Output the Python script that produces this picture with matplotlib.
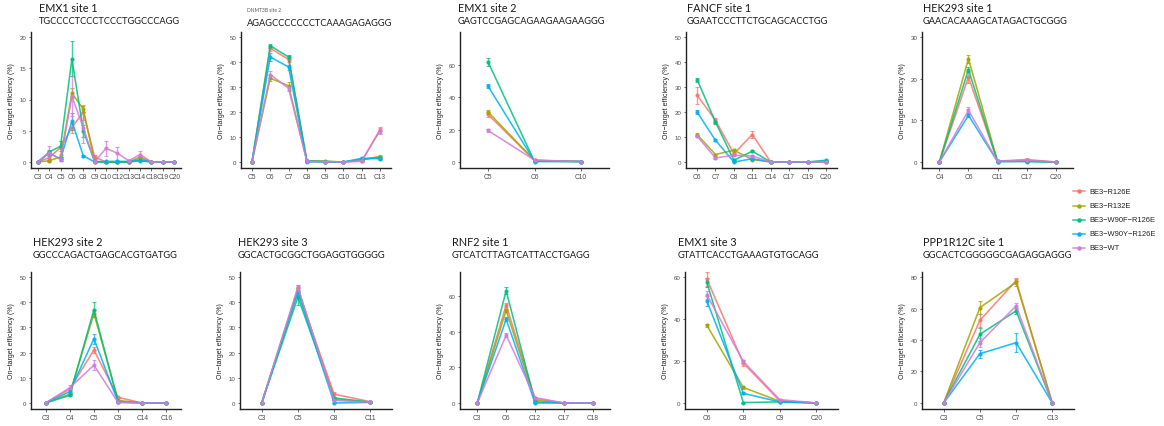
import matplotlib
matplotlib.use("Agg")
import matplotlib.pyplot as plt
from matplotlib.lines import Line2D

W, H = 1164, 427

series_names = ["BE3-R126E", "BE3-R132E", "BE3-W90F-R126E", "BE3-W90Y-R126E", "BE3-WT"]
series_colors = ["#F8766D", "#A3A500", "#00BF7D", "#00B0F6", "#D27BDC"]

# ---------------- data ----------------
p1_name = "EMX1 site 1"
p1_seq = "TGCCCCTCCCTCCCTGGCCCAGG"
p1_cats = ["C3", "C4", "C5", "C6", "C8", "C9", "C10", "C12", "C13", "C14", "C18", "C19", "C20"]
p1_vals = [[0, 0.7, 2.3, 5.5, 8.0, 0.8, 0, 0, 0, 0.5, 0, 0, 0],
           [0, 0.2, 0.8, 11.0, 8.5, 0, 0, 0, 0, 0.8, 0, 0, 0],
           [0, 1.6, 2.5, 16.5, 5.0, 0.1, 0, 0, 0, 0.2, 0, 0, 0],
           [0, 1.4, 0.5, 6.5, 1.0, 0, 0.1, 0.1, 0.1, 0.3, 0, 0, 0],
           [0, 1.5, 0.4, 10.5, 5.5, 0, 2.2, 1.4, 0.2, 1.2, 0, 0, 0]]
p1_errs = [[0, 0.5, 1.0, 0.8, 1.2, 0.3, 0, 0, 0, 0.3, 0, 0, 0],
           [0, 0.2, 0.3, 0.8, 0.5, 0, 0, 0, 0, 0.2, 0, 0, 0],
           [0, 0.3, 0.8, 2.8, 1.0, 0.1, 0.1, 0, 0, 0.1, 0.1, 0, 0],
           [0, 0.4, 0.3, 1.3, 0.2, 0, 0.1, 0.1, 0.1, 0.1, 0, 0, 0],
           [0, 1.0, 0.3, 3.2, 2.5, 0.2, 1.2, 1.0, 0.2, 0.6, 0, 0, 0]]

p2_name = "DNMT3B site 2"
p2_seq = "AGAGCCCCCCCTCAAAGAGAGGG"
p2_cats = ["C5", "C6", "C7", "C8", "C9", "C10", "C11", "C13"]
p2_vals = [[0, 45.5, 41.0, 0.5, 0.2, 0, 0.3, 13.0],
           [0, 33.5, 30.5, 0.5, 0.3, 0, 1.0, 2.2],
           [0, 46.5, 42.0, 0.5, 0.2, 0, 1.0, 1.8],
           [0, 42.0, 38.0, 0, 0, 0, 1.5, 1.3],
           [0, 35.0, 29.5, 0.3, 0.1, 0, 0.5, 12.5]]
p2_errs = [[0, 1.0, 1.0, 0.3, 0.1, 0, 0.2, 1.2],
           [0, 1.2, 1.5, 0.3, 0.1, 0, 0.3, 0.6],
           [0, 0.8, 0.8, 0.2, 0.1, 0, 0.3, 0.5],
           [0, 1.5, 1.0, 0.1, 0, 0, 0.6, 0.4],
           [0, 1.5, 1.0, 0.2, 0.1, 0, 0.2, 1.2]]

p3_name = "EMX1 site 2"
p3_seq = "GAGTCCGAGCAGAAGAAGAAGGG"
p3_cats = ["C5", "C6", "C10"]
p3_vals = [[29.5, 1.0, 0.3],
           [31.0, 1.0, 0.3],
           [62.0, 0.3, 0.3],
           [47.0, 0.5, 0.3],
           [19.5, 1.2, 0.3]]
p3_errs = [[1.5, 0.2, 0.1],
           [1.2, 0.2, 0.1],
           [2.5, 0.1, 0.1],
           [1.2, 0.2, 0.1],
           [1.2, 0.2, 0.1]]

p4_name = "FANCF site 1"
p4_seq = "GGAATCCCTTCTGCAGCACCTGG"
p4_cats = ["C6", "C7", "C8", "C11", "C14", "C17", "C19", "C20"]
p4_vals = [[26.7, 16.7, 3.3, 11.0, 0, 0, 0, 0],
           [11.0, 3.0, 4.7, 1.0, 0, 0, 0, 0.2],
           [33.0, 16.0, 0.7, 4.3, 0, 0, 0, 0.7],
           [20.0, 8.7, 0, 1.3, 0, 0, 0, 0.3],
           [10.4, 1.6, 2.7, 2.4, 0, 0, 0, 0]]
p4_errs = [[3.5, 1.0, 0.5, 1.5, 0, 0, 0, 0],
           [0.5, 0.4, 0.6, 0.3, 0, 0, 0, 0.1],
           [0.8, 0.6, 0.2, 0.4, 0, 0, 0, 0.2],
           [0.8, 0.4, 0.1, 0.3, 0, 0, 0, 0.1],
           [0.5, 0.3, 0.4, 0.4, 0, 0, 0, 0]]

p5_name = "HEK293 site 1"
p5_seq = "GAACACAAAGCATAGACTGCGGG"
p5_cats = ["C4", "C6", "C11", "C17", "C20"]
p5_vals = [[0, 20.4, 0.2, 0.6, 0],
           [0, 24.8, 0.2, 0.2, 0],
           [0, 22.2, 0.1, 0.1, 0],
           [0, 11.2, 0.1, 0.2, 0],
           [0, 12.4, 0.2, 0.4, 0]]
p5_errs = [[0, 1.5, 0.1, 0.3, 0],
           [0, 1.0, 0.1, 0.1, 0],
           [0, 0.7, 0.1, 0.1, 0],
           [0, 0.5, 0.1, 0.1, 0],
           [0, 0.7, 0.1, 0.2, 0]]

p6_name = "HEK293 site 2"
p6_seq = "GGCCCAGACTGAGCACGTGATGG"
p6_cats = ["C3", "C4", "C5", "C9", "C14", "C16"]
p6_vals = [[0, 5.5, 21.0, 2.2, 0, 0],
           [0, 3.5, 35.5, 1.0, 0, 0],
           [0, 3.0, 37.0, 0.5, 0, 0],
           [0, 4.5, 25.5, 0.3, 0, 0],
           [0, 6.0, 15.0, 0.2, 0, 0]]
p6_errs = [[0, 0.6, 1.2, 0.3, 0, 0],
           [0, 0.4, 1.5, 0.2, 0, 0],
           [0, 0.4, 3.0, 0.2, 0, 0],
           [0, 0.5, 2.0, 0.1, 0, 0],
           [0, 1.0, 2.0, 0.1, 0, 0]]

p7_name = "HEK293 site 3"
p7_seq = "GGCACTGCGGCTGGAGGTGGGGG"
p7_cats = ["C3", "C5", "C8", "C11"]
p7_vals = [[0, 44.5, 3.5, 0.5],
           [0, 45.5, 1.5, 0.3],
           [0, 42.0, 2.0, 0.3],
           [0, 44.0, 0, 0.2],
           [0, 46.0, 1.0, 0.3]]
p7_errs = [[0, 1.5, 1.0, 0.1],
           [0, 1.5, 0.4, 0.1],
           [0, 3.0, 0.4, 0.1],
           [0, 1.5, 0.1, 0.1],
           [0, 1.0, 0.3, 0.1]]

p8_name = "RNF2 site 1"
p8_seq = "GTCATCTTAGTCATTACCTGAGG"
p8_cats = ["C3", "C6", "C12", "C17", "C18"]
p8_vals = [[0, 55.0, 2.5, 0, 0],
           [0, 52.0, 1.5, 0, 0],
           [0, 63.0, 0.5, 0, 0],
           [0, 47.0, 0, 0, 0],
           [0, 38.0, 3.0, 0, 0]]
p8_errs = [[0, 1.0, 0.4, 0, 0],
           [0, 1.0, 0.3, 0, 0],
           [0, 2.0, 0.2, 0, 0],
           [0, 1.0, 0.1, 0, 0],
           [0, 1.0, 0.4, 0, 0]]

p9_name = "EMX1 site 3"
p9_seq = "GTATTCACCTGAAAGTGTGCAGG"
p9_cats = ["C6", "C8", "C9", "C20"]
p9_vals = [[59.0, 19.0, 1.0, 0],
           [37.0, 7.4, 0.8, 0],
           [57.4, 0.2, 0.5, 0],
           [48.5, 4.6, 0.5, 0],
           [51.5, 19.8, 1.6, 0]]
p9_errs = [[3.5, 1.5, 0.3, 0],
           [0.8, 0.6, 0.2, 0],
           [2.0, 0.1, 0.2, 0],
           [2.5, 0.4, 0.1, 0],
           [2.0, 0.8, 0.4, 0]]

p10_name = "PPP1R12C site 1"
p10_seq = "GGCACTCGGGGGCGAGAGGAGGG"
p10_cats = ["C3", "C5", "C7", "C13"]
p10_vals = [[0, 52.5, 77.7, 0],
            [0, 60.6, 76.6, 0],
            [0, 43.6, 58.5, 0],
            [0, 31.3, 38.3, 0],
            [0, 38.3, 61.7, 0]]
p10_errs = [[0, 4.0, 2.0, 0],
            [0, 4.0, 2.0, 0],
            [0, 4.0, 2.0, 0],
            [0, 2.5, 6.0, 0],
            [0, 3.0, 2.0, 0]]

# ---------------- layout (pixels) ----------------
panels = [
    (p1_name, p1_seq, p1_cats, p1_vals, p1_errs, 31, 181, 33, 169, [0, 5, 10, 15, 20], None, 39, 9, 22, False),
    (p2_name, p2_seq, p2_cats, p2_vals, p2_errs, 241, 391, 33, 169, [0, 10, 20, 30, 40, 50], None, 247, 11, 23, True),
    (p3_name, p3_seq, p3_cats, p3_vals, p3_errs, 460, 609, 33, 169, [0, 20, 40, 60], (-3.7, 80.4), 458, 9, 22, False),
    (p4_name, p4_seq, p4_cats, p4_vals, p4_errs, 686, 837, 33, 169, [0, 10, 20, 30, 40, 50], None, 687, 9, 22, False),
    (p5_name, p5_seq, p5_cats, p5_vals, p5_errs, 922, 1073, 33, 169, [0, 10, 20, 30], None, 923, 9, 22, False),
    (p6_name, p6_seq, p6_cats, p6_vals, p6_errs, 31, 181, 273, 410, [0, 10, 20, 30, 40, 50], None, 33, 243, 256, False),
    (p7_name, p7_seq, p7_cats, p7_vals, p7_errs, 240, 392, 273, 410, [0, 10, 20, 30, 40, 50], None, 238, 243, 256, False),
    (p8_name, p8_seq, p8_cats, p8_vals, p8_errs, 460, 610, 273, 410, [0, 20, 40, 60], (-3.4, 73.5), 452, 243, 256, False),
    (p9_name, p9_seq, p9_cats, p9_vals, p9_errs, 685, 838, 273, 410, [0, 20, 40, 60], None, 678, 243, 256, False),
    (p10_name, p10_seq, p10_cats, p10_vals, p10_errs, 922, 1074, 273, 410, [0, 20, 40, 60, 80], None, 923, 243, 256, False),
]

title_font = "Lato"
axis_font = "Liberation Sans"
tick_color = "#4D4D4D"

fig = plt.figure(figsize=(W / 100, H / 100), dpi=100)

for (name, seq, cats, vals, errs, x0, x1, yt, yb, ticks, ylim, tx, ny, sy, small) in panels:
    ax = fig.add_axes([x0 / W, 1 - yb / H, (x1 - x0) / W, (yb - yt) / H])
    xs = list(range(len(cats)))
    for vals_s, errs_s, col in zip(vals, errs, series_colors):
        ax.errorbar(xs, vals_s, yerr=errs_s, fmt="none", ecolor=col, elinewidth=1.0,
                    capsize=1.3, capthick=0.8, alpha=0.75, zorder=2)
        ax.plot(xs, vals_s, color=col, lw=1.15, alpha=0.85, marker="o", ms=2.0,
                mec=col, mfc=col, zorder=3)
    top = ticks[-1]
    if ylim is None:
        ylim = (-0.048 * top, top * 1.04)
    ax.set_ylim(*ylim)
    ax.set_xlim(-0.6, len(cats) - 1 + 0.6)
    ax.set_xticks(xs)
    ax.set_xticklabels(cats, fontsize=4.8, color=tick_color, family=axis_font)
    ax.set_yticks(ticks)
    ax.set_yticklabels([str(t) for t in ticks], fontsize=4.4, color=tick_color, family=axis_font)
    ax.tick_params(axis="both", length=1.8, width=0.5, color="#333333", pad=1.5)
    for s in ["top", "right"]:
        ax.spines[s].set_visible(False)
    for s in ["left", "bottom"]:
        ax.spines[s].set_linewidth(1.0)
        ax.spines[s].set_color("#222222")
    ax.set_facecolor("none")
    ax.set_ylabel("On\u2212target efficiency (%)", fontsize=5.0, family=axis_font, color="#222222",
                  labelpad=3)
    # titles
    if small:
        fig.text(tx / W, 1 - ny / H, name, fontsize=3.5, family=title_font, color="#555555",
                 ha="left", va="center")
    else:
        fig.text(tx / W, 1 - ny / H, name, fontsize=7.8, family=title_font, color="#1a1a1a",
                 ha="left", va="center")
    fig.text(tx / W, 1 - sy / H, seq, fontsize=6.7, family=title_font, color="#1a1a1a",
             ha="left", va="center")

# legend
leg_x0, leg_x1, leg_tx = 1073, 1085, 1089
leg_ys = [192, 207, 221, 235, 249]
for nm, col, ly in zip(series_names, series_colors, leg_ys):
    fig.add_artist(Line2D([leg_x0 / W, leg_x1 / W], [1 - ly / H, 1 - ly / H], color=col,
                          lw=1.1, alpha=0.85, transform=fig.transFigure))
    fig.add_artist(Line2D([(leg_x0 + leg_x1) / 2 / W], [1 - ly / H], color=col, marker="o",
                          ms=2.2, lw=0, transform=fig.transFigure))
    fig.text(leg_tx / W, 1 - ly / H, nm.replace("-", "\u2212"), fontsize=5.4, family=axis_font,
             color="#222222", ha="left", va="center")

fig.savefig("out.png", dpi=100)
